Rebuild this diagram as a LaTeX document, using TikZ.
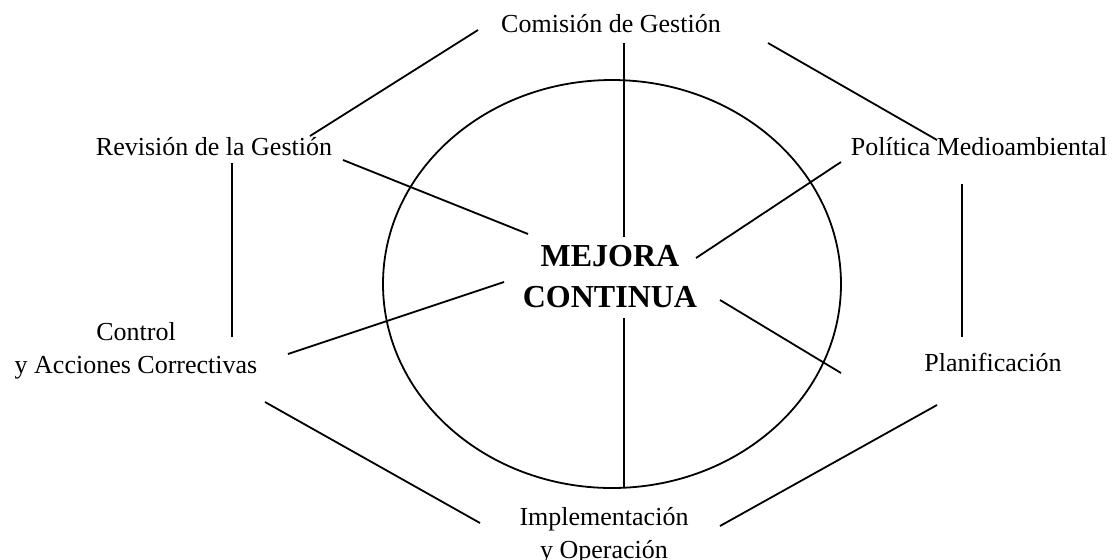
\documentclass[tikz,border=0pt]{standalone}
\usepackage{fontspec}
\setmainfont{Liberation Serif}
\usepackage{tikz}
\usetikzlibrary{shapes.geometric}

\begin{document}
\begin{tikzpicture}[
                x=0.5pt, y=-0.5pt,
                every node/.style={align=center, inner sep=0pt, font=\fontsize{13}{16.5}\selectfont},
                oneline/.style={text height=0.75em, text depth=0.25em},
                link/.style={-, line width=0.9pt}]
            \useasboundingbox (0,0) rectangle (1114,559);

            % Elipse central
            \node[draw, ellipse, line width=0.9pt, minimum width=229pt, minimum height=204pt] (ciclo) at (612,284) {};
            \node[font=\fontsize{16}{20.5}\selectfont\bfseries] (mejora) at (610,276.5) {MEJORA\\CONTINUA};

            % Etapas
            \node[oneline] (comision) at (611,27.5) {Comisión de Gestión};
            \node[oneline] (revision) at (214,150.5) {Revisión de la Gestión};
            \node[oneline] (politica) at (979,150.5) {Política Medioambiental};
            \node (control) at (136,350.5) {Control\\y Acciones Correctivas};
            \node[oneline] (planif) at (993,366.5) {Planificación};
            \node (implem) at (604,535.5) {Implementación\\y Operación};

            % Lineas del ciclo
            \draw[link] ([shift={(96,-14.5)}]revision.center) -- ([shift={(-133,2.5)}]comision.center);
            \draw[link] ([shift={(157,15.5)}]comision.center) -- ([shift={(-42,-10.5)}]politica.center);
            \draw[link] ([shift={(-17,33.5)}]politica.center) -- ([shift={(-31,-29.5)}]planif.center);
            \draw[link] ([shift={(-56,38.5)}]planif.center) -- ([shift={(116,-9.5)}]implem.center);
            \draw[link] ([shift={(-124,-12.5)}]implem.center) -- ([shift={(129,51.5)}]control.center);
            \draw[link] ([shift={(96,-13.5)}]control.center) -- ([shift={(18,12.5)}]revision.center);

            % Radios hacia el centro
            \draw[link] ([shift={(13,15.5)}]comision.center) -- ([shift={(14,-39.5)}]mejora.center);
            \draw[link] ([shift={(-138,11.5)}]politica.center) -- ([shift={(86,-18.5)}]mejora.center);
            \draw[link] ([shift={(110,23.5)}]mejora.center) -- ([shift={(-152,6.5)}]planif.center);
            \draw[link] ([shift={(14,41.5)}]mejora.center) -- ([shift={(20,-47.5)}]implem.center);
            \draw[link] ([shift={(152,3.5)}]control.center) -- ([shift={(-106,5.5)}]mejora.center);
            \draw[link] ([shift={(129,9.5)}]revision.center) -- ([shift={(-82,-42.5)}]mejora.center);

        \end{tikzpicture}
\end{document}
